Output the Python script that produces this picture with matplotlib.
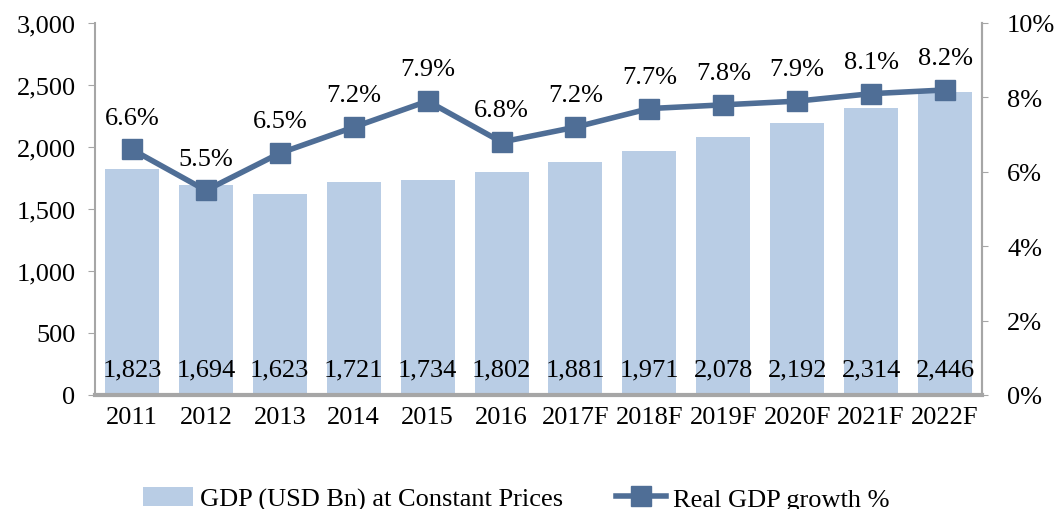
import matplotlib.pyplot as plt
import numpy as np

years = ["2011", "2012", "2013", "2014", "2015", "2016",
         "2017F", "2018F", "2019F", "2020F", "2021F", "2022F"]
gdp = [1823, 1694, 1623, 1721, 1734, 1802, 1881, 1971, 2078, 2192, 2314, 2446]
growth = [6.6, 5.5, 6.5, 7.2, 7.9, 6.8, 7.2, 7.7, 7.8, 7.9, 8.1, 8.2]

plt.rcParams["font.family"] = ["Liberation Serif", "DejaVu Serif"]
plt.rcParams["font.size"] = 19

bar_c = "#B9CDE5"
line_c = "#4F6E96"
spine_c = "#A6A6A6"

fig = plt.figure(figsize=(10.54, 5.10), dpi=100)
ax = fig.add_axes([95 / 1054, 1 - 396 / 510, (982 - 95) / 1054, (396 - 24) / 510])
x = np.arange(len(years))

bars = ax.bar(x, gdp, width=0.73, color=bar_c, zorder=2,
              label="GDP (USD Bn) at Constant Prices")
for xi, v in zip(x, gdp):
    ax.text(xi, 210, f"{v:,}", ha="center", va="center", fontsize=19, zorder=5)

ax.set_xlim(-0.5, len(years) - 0.5)
ax.set_ylim(0, 3000)
ax.set_yticks(range(0, 3001, 500))
ax.set_yticklabels([f"{t:,}" for t in range(0, 3001, 500)])
ax.set_xticks(x)
ax.set_xticklabels(years)
ax.tick_params(axis="x", length=0, pad=8)
ax.tick_params(axis="y", length=5, color=spine_c, pad=9)
for s in ["left", "right", "top"]:
    ax.spines[s].set_color(spine_c)
    ax.spines[s].set_linewidth(1.5)
ax.spines["top"].set_visible(False)
ax.spines["bottom"].set_color(spine_c)
ax.spines["bottom"].set_linewidth(3)

ax2 = ax.twinx()
ln, = ax2.plot(x, growth, color=line_c, lw=4, marker="s", markersize=15,
               zorder=4, label="Real GDP growth %")
for xi, g in zip(x, growth):
    ax2.annotate(f"{g:.1f}%", (xi, g), xytext=(0, 15), textcoords="offset points",
                 ha="center", va="bottom", fontsize=19)
ax2.set_ylim(0, 10)
ax2.set_yticks(range(0, 11, 2))
ax2.set_yticklabels([f"{t}%" for t in range(0, 11, 2)])
ax2.tick_params(axis="y", length=4, color=spine_c, pad=14)
for s in ["left", "top", "bottom"]:
    ax2.spines[s].set_visible(False)
ax2.spines["right"].set_color(spine_c)
ax2.spines["right"].set_linewidth(1.5)

fig.legend([bars, ln], ["GDP (USD Bn) at Constant Prices", "Real GDP growth %"],
           loc="center", bbox_to_anchor=(0.49, 10 / 510), ncol=2,
           frameon=False, fontsize=19, columnspacing=2.0, handlelength=1.9,
           handletextpad=0.27)

fig.savefig("out.png", dpi=100)
